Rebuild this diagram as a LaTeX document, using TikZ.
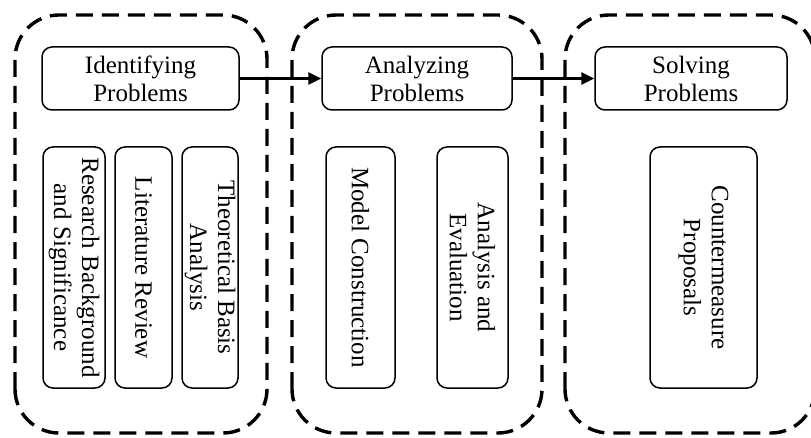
\documentclass[tikz,border=0pt]{standalone}
\usepackage{fontspec}
\setmainfont{Liberation Serif}
\usetikzlibrary{arrows.meta,positioning}

\tikzset{
  phase/.style={draw, line width=3.4pt, dash pattern=on 17pt off 9pt, rounded corners=44pt},
  stagebox/.style={draw, line width=1.5pt, rounded corners=10pt, align=center,
    font=\fontsize{25}{28}\selectfont, inner sep=2pt, minimum height=63pt},
  taskbox/.style={stagebox, rotate=-90, minimum width=241pt},
  flow/.style={line width=3pt, -{Triangle[length=13pt,width=12pt]}}
}

\begin{document}
\begin{tikzpicture}[x=1pt, y=1pt]
  \clip (0,0) rectangle (811,437);
  % Rahmen der drei Phasen
  \draw[phase] (15,4) rectangle (267,422);
  \draw[phase] (292,4) rectangle (542,422);
  \draw[phase] (565,4) rectangle (815,422);
  % Phasen oben
  \node[stagebox, minimum width=197pt] (ident) at (140.5,358.5) {Identifying\\Problems};
  \node[stagebox, minimum width=190pt] (analyz) at (417,358.5) {Analyzing\\Problems};
  \node[stagebox, minimum width=192pt] (solv) at (691,358.5) {Solving\\Problems};
  % Inhalte (senkrecht)
  \node[taskbox, minimum height=62pt] (resbg) at (74,169.5) {Research Background\\and Significance};
  \node[taskbox, minimum height=57pt] (litrev) at (143.5,169.5) {Literature Review};
  \node[taskbox, minimum height=56pt] (theory) at (210,169.5) {Theoretical Basis\\Analysis};
  \node[taskbox, minimum height=69pt] (model) at (360.5,169.5) {Model Construction};
  \node[taskbox, minimum height=71pt] (aneval) at (472.5,169.5) {Analysis and\\Evaluation};
  \node[taskbox, minimum height=107pt] (counter) at (703.5,169.5) {Countermeasure\\Proposals};
  % Pfeile
  \draw[flow] (ident.east) -- (analyz.west);
  \draw[flow] (analyz.east) -- (solv.west);
\end{tikzpicture}
\end{document}
